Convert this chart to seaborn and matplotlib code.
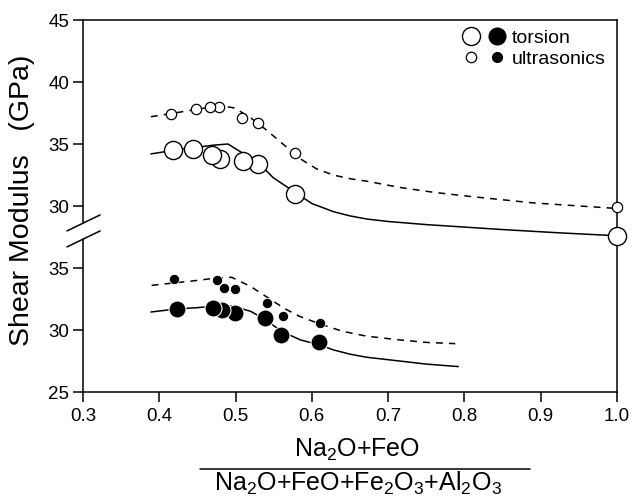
import numpy as np
import pandas as pd
import matplotlib
matplotlib.use('Agg')
import matplotlib.pyplot as plt
from matplotlib.lines import Line2D
from matplotlib.legend_handler import HandlerTuple
import seaborn as sns

# ---- data ----
# upper block (open symbols), GPa
up_tor_x = [0.418, 0.444, 0.469, 0.480, 0.510, 0.530, 0.578, 1.000]
up_tor_y = [34.5, 34.6, 34.1, 33.8, 33.6, 33.4, 31.0, 27.6]
up_ult_x = [0.415, 0.448, 0.467, 0.478, 0.509, 0.530, 0.578, 1.000]
up_ult_y = [37.4, 37.8, 38.0, 38.0, 37.1, 36.7, 34.3, 29.9]

# lower block (filled symbols), GPa
lo_tor_x = [0.423, 0.471, 0.482, 0.499, 0.539, 0.560, 0.609]
lo_tor_y = [31.7, 31.8, 31.6, 31.4, 31.0, 29.6, 29.0]
lo_ult_x = [0.419, 0.476, 0.485, 0.499, 0.541, 0.562, 0.611]
lo_ult_y = [34.1, 34.0, 33.4, 33.3, 32.2, 31.1, 30.6]

# model curves
up_solid_x = [0.389, 0.420, 0.445, 0.470, 0.490, 0.503, 0.530, 0.549, 0.578, 0.600,
              0.628, 0.650, 0.672, 0.700, 0.750, 0.800, 0.850, 0.920, 1.000]
up_solid_y = [34.2, 34.5, 34.7, 34.9, 35.0, 34.5, 33.5, 32.3, 31.1, 30.2,
              29.55, 29.2, 28.95, 28.75, 28.5, 28.3, 28.1, 27.85, 27.6]
up_dash_x = [0.389, 0.420, 0.450, 0.480, 0.499, 0.520, 0.541, 0.562, 0.585, 0.606,
             0.628, 0.650, 0.672, 0.715, 0.760, 0.803, 0.890, 1.000]
up_dash_y = [37.2, 37.5, 37.8, 38.1, 37.9, 37.1, 36.1, 35.0, 33.8, 33.0,
             32.5, 32.2, 32.0, 31.5, 31.1, 30.8, 30.25, 29.8]
lo_solid_x = [0.389, 0.423, 0.450, 0.475, 0.495, 0.520, 0.540, 0.560, 0.585, 0.610,
              0.628, 0.650, 0.672, 0.715, 0.750, 0.792]
lo_solid_y = [31.45, 31.7, 31.8, 31.95, 31.95, 31.5, 30.8, 29.9, 29.2, 28.8,
              28.4, 28.05, 27.8, 27.5, 27.25, 27.05]
lo_dash_x = [0.390, 0.420, 0.450, 0.475, 0.495, 0.520, 0.545, 0.565, 0.584, 0.610,
             0.640, 0.672, 0.715, 0.750, 0.788]
lo_dash_y = [33.6, 33.8, 34.0, 34.2, 34.25, 33.5, 32.5, 31.7, 31.1, 30.5,
             29.9, 29.5, 29.2, 29.0, 28.9]

x_ticks = [0.3, 0.4, 0.5, 0.6, 0.7, 0.8, 0.9, 1.0]
lo_ticks = [25, 30, 35]
up_ticks = [30, 35, 40, 45]

# ---- style ----
sns.set_style('ticks')
plt.rcParams['font.family'] = ['Liberation Sans', 'DejaVu Sans']
plt.rcParams['mathtext.fontset'] = 'custom'
plt.rcParams['mathtext.rm'] = 'Liberation Sans'
plt.rcParams['text.color'] = 'black'
plt.rcParams['axes.labelcolor'] = 'black'
plt.rcParams['xtick.color'] = 'black'
plt.rcParams['ytick.color'] = 'black'
plt.rcParams['axes.linewidth'] = 1.1
plt.rcParams['xtick.major.width'] = 1.1
plt.rcParams['ytick.major.width'] = 1.1

fig = plt.figure(figsize=(6.36, 4.98), dpi=100)
ax = fig.add_axes([83 / 636, 1 - 392 / 498, 534 / 636, 372 / 498])
ax2 = ax.twinx()

# lower block on ax (25..55), upper block on ax2 (15..45): upper 30 sits where lower 40 would
ax.set_xlim(0.3, 1.0)
ax.set_ylim(25, 55)
ax2.set_ylim(15, 45)

lw = 1.1
sns.lineplot(x=lo_solid_x, y=lo_solid_y, ax=ax, color='black', lw=lw, sort=False, estimator=None)
sns.lineplot(x=lo_dash_x, y=lo_dash_y, ax=ax, color='black', lw=lw, sort=False, estimator=None)
ax.lines[-1].set_dashes((4.5, 4))
sns.lineplot(x=up_solid_x, y=up_solid_y, ax=ax2, color='black', lw=lw, sort=False, estimator=None)
sns.lineplot(x=up_dash_x, y=up_dash_y, ax=ax2, color='black', lw=lw, sort=False, estimator=None)
ax2.lines[-1].set_dashes((4.5, 4))

# symbols (reversed so the left-hand circles sit on top, as in the original)
sns.scatterplot(x=lo_ult_x[::-1], y=lo_ult_y[::-1], ax=ax, s=55, color='black',
                edgecolor='white', linewidth=0.6, zorder=3, clip_on=False)
sns.scatterplot(x=lo_tor_x[::-1], y=lo_tor_y[::-1], ax=ax, s=150, color='black',
                edgecolor='white', linewidth=0.8, zorder=3, clip_on=False)
sns.scatterplot(x=up_ult_x[::-1], y=up_ult_y[::-1], ax=ax2, s=55, color='white',
                edgecolor='black', linewidth=0.9, zorder=3, clip_on=False)
sns.scatterplot(x=up_tor_x[::-1], y=up_tor_y[::-1], ax=ax2, s=170, color='white',
                edgecolor='black', linewidth=1.0, zorder=3, clip_on=False)

# ---- axes ----
ax.set_xticks(x_ticks)
ax.set_xticklabels([f'{v:.1f}' for v in x_ticks])
ax.set_yticks(lo_ticks)
ax2.set_yticks(up_ticks)
ax2.yaxis.tick_left()
for a in (ax, ax2):
    a.tick_params(axis='both', direction='out', length=7, labelsize=13.5, color='black',
                  labelcolor='black')
    a.tick_params(axis='y', pad=3)
    a.tick_params(axis='x', pad=4.5)
    a.set_xlabel('')
    a.set_ylabel('')
for s in ax2.spines.values():
    s.set_visible(False)
ax.spines['left'].set_visible(False)
for s in ('top', 'right', 'bottom'):
    ax.spines[s].set_visible(True)
    ax.spines[s].set_color('black')

# broken left spine with the // marks
kw = dict(transform=ax.transAxes, color='black', lw=1.1, clip_on=False)
ax.plot([0, 0], [0.454, 1.0], **kw)
ax.plot([0, 0], [0.0, 0.411], **kw)
ax.plot([-0.030, 0.032], [0.433, 0.476], **kw)
ax.plot([-0.030, 0.032], [0.390, 0.433], **kw)

# legend
h_ot = Line2D([], [], ls='none', marker='o', ms=13, mfc='white', mec='black', mew=1.0)
h_ft = Line2D([], [], ls='none', marker='o', ms=12, mfc='black', mec='black')
h_ou = Line2D([], [], ls='none', marker='o', ms=7.5, mfc='white', mec='black', mew=0.9)
h_fu = Line2D([], [], ls='none', marker='o', ms=7, mfc='black', mec='black')
ax2.legend([(h_ot, h_ft), (h_ou, h_fu)], ['torsion', 'ultrasonics'],
           handler_map={tuple: HandlerTuple(ndivide=None, pad=0.82)},
           loc='upper right', bbox_to_anchor=(0.978, 0.974), frameon=False,
           fontsize=14, handlelength=1.85, handletextpad=0.5, labelspacing=0.15,
           borderaxespad=0, borderpad=0)

# labels
fig.text(22 / 636, 1 - 200 / 498, 'Shear Modulus   (GPa)', rotation=90,
         ha='center', va='center', fontsize=20.5)
fig.text(357.5 / 636, 1 - 457 / 498, r'Na$_\mathregular{2}$O+FeO',
         ha='center', va='baseline', fontsize=18)
fig.text(357.5 / 636, 1 - 491 / 498,
         r'Na$_\mathregular{2}$O+FeO+Fe$_\mathregular{2}$O$_\mathregular{3}$+Al$_\mathregular{2}$O$_\mathregular{3}$',
         ha='center', va='baseline', fontsize=18)
fig.add_artist(Line2D([200 / 636, 530 / 636], [1 - 469 / 498, 1 - 469 / 498],
                      color='black', lw=1.1))

fig.savefig('out.png', dpi=100)
